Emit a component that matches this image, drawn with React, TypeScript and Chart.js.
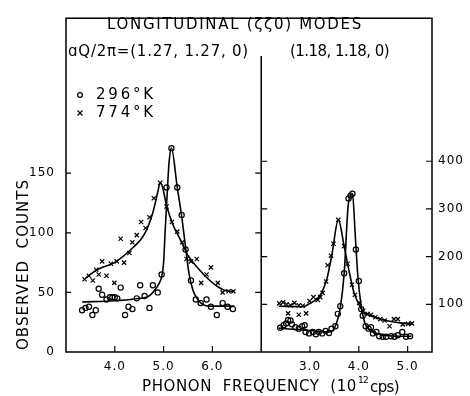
import React, { useEffect, useRef } from 'react';
import { Chart, registerables } from 'chart.js';

Chart.register(...registerables);

// ---- shared-axis mapping: left panel (3..7) and right panel (2..5.5) sit side by side
const LEFT_SHIFT = -3;
const RIGHT_SHIFT = 2;
const DIVIDER_AT = 4;

// ---- tick labels
const leftFreqTicks = [4.0, 5.0, 6.0];
const rightFreqTicks = [3.0, 4.0, 5.0];
const leftCountTicks = [0, 50, 100, 150];
const rightCountTicks = [100, 200, 300, 400];

// ---- left panel, aQ/2π = (1.27, 1.27, 0)
const leftFreq296 = [3.33, 3.40, 3.47, 3.54, 3.61, 3.67, 3.74, 3.83, 3.90, 3.95, 4.00, 4.05, 4.12, 4.21, 4.28, 4.36, 4.45, 4.52, 4.61, 4.71, 4.78, 4.88, 4.96, 5.06, 5.16, 5.28, 5.37, 5.45, 5.56, 5.66, 5.76, 5.88, 5.97, 6.09, 6.21, 6.31, 6.42];
const leftCount296 = [35, 37, 38, 31, 35, 53, 48, 44, 46, 46, 46, 45, 54, 31, 38, 36, 45, 56, 47, 37, 56, 50, 65, 138, 171, 138, 115, 86, 60, 44, 41, 44, 38, 31, 41, 38, 36];
const leftFreq774 = [3.38, 3.47, 3.55, 3.62, 3.67, 3.74, 3.83, 3.92, 3.99, 4.04, 4.12, 4.19, 4.30, 4.36, 4.45, 4.54, 4.63, 4.71, 4.80, 4.93, 5.06, 5.17, 5.28, 5.38, 5.47, 5.56, 5.68, 5.77, 5.88, 5.97, 6.11, 6.21, 6.33, 6.43];
const leftCount774 = [61, 64, 60, 69, 65, 76, 64, 74, 58, 76, 95, 75, 83, 92, 98, 109, 104, 113, 129, 142, 122, 109, 101, 92, 78, 76, 78, 58, 65, 71, 58, 50, 51, 51];
const leftFit296Freq = [3.33, 4.0, 4.4, 4.7, 4.82, 4.9, 4.96, 5.0, 5.03, 5.07, 5.11, 5.16, 5.28, 5.37, 5.45, 5.52, 5.6, 5.7, 5.8, 5.95, 6.45];
const leftFit296Count = [42, 43, 44.5, 47, 52, 57, 63, 75, 100, 130, 158, 171, 138, 114, 88, 66, 52, 44, 40, 38.5, 38.5];
const leftFit774Freq = [3.40, 3.64, 3.99, 4.33, 4.61, 4.78, 4.88, 4.93, 4.98, 5.06, 5.19, 5.37, 5.5, 5.71, 5.92, 6.12, 6.33, 6.45];
const leftFit774Count = [62, 69, 75, 86, 99, 117, 134, 142, 138, 123, 107, 92, 81, 70, 61, 54.5, 51, 51];

// ---- right panel, (1.18, 1.18, 0)
const rightFreq296 = [2.39, 2.46, 2.51, 2.55, 2.60, 2.63, 2.70, 2.77, 2.84, 2.89, 2.91, 2.98, 3.06, 3.12, 3.18, 3.25, 3.32, 3.39, 3.44, 3.52, 3.57, 3.62, 3.70, 3.79, 3.83, 3.87, 3.94, 4.00, 4.05, 4.08, 4.14, 4.20, 4.25, 4.29, 4.36, 4.42, 4.49, 4.56, 4.66, 4.73, 4.80, 4.89, 4.97, 5.05];
const rightCount296 = [51, 56, 60, 67, 66, 58, 52, 49, 54, 56, 42, 39, 42, 37, 42, 39, 44, 40, 49, 54, 80, 96, 165, 322, 328, 332, 215, 149, 90, 76, 54, 49, 52, 39, 42, 33, 32, 32, 33, 32, 35, 42, 32, 33];
const rightFreq774 = [2.37, 2.45, 2.52, 2.60, 2.68, 2.77, 2.85, 2.55, 2.77, 2.92, 2.99, 3.07, 3.16, 3.21, 3.26, 3.33, 3.36, 3.43, 3.48, 3.58, 3.70, 3.77, 3.86, 3.92, 4.01, 4.09, 4.18, 4.25, 4.34, 4.44, 4.53, 4.63, 4.72, 4.80, 4.90, 5.01, 5.09];
const rightCount774 = [102, 104, 100, 98, 103, 98, 97, 81, 78, 81, 107, 115, 109, 115, 124, 148, 182, 202, 227, 277, 222, 185, 141, 120, 103, 86, 80, 78, 73, 69, 66, 54, 69, 69, 58, 59, 60];
const rightFit296Freq = [2.36, 3.0, 3.4, 3.5, 3.57, 3.62, 3.70, 3.78, 3.83, 3.87, 3.93, 3.98, 4.05, 4.12, 4.2, 4.35, 4.6, 5.08];
const rightFit296Count = [50, 45, 42, 50, 70, 92, 165, 305, 328, 332, 240, 160, 95, 62, 48, 40, 34, 33];
const rightFit774Freq = [2.36, 2.85, 3.0, 3.2, 3.35, 3.45, 3.58, 3.7, 3.8, 3.9, 4.0, 4.1, 4.3, 4.6, 5.1];
const rightFit774Count = [96, 95, 102, 118, 155, 205, 277, 222, 170, 125, 100, 84, 74, 65, 58];

const INK = '#000';
const FONT = 'DejaVu Sans';

const pts = (xs: number[], ys: number[], shift: number) => xs.map((f, i) => ({ x: f + shift, y: ys[i] }));

function markerSet(data: any[], yAxisID: string, style: string, r: number) {
  return {
    data, yAxisID, xAxisID: 'x', showLine: false, order: 0,
    pointStyle: style, pointRadius: r, pointHoverRadius: r,
    borderColor: INK, backgroundColor: 'rgba(0,0,0,0)', pointBorderWidth: 1.2,
  };
}
function lineSet(data: any[], yAxisID: string) {
  return {
    data, yAxisID, xAxisID: 'x', showLine: true, order: 1,
    pointRadius: 0, borderColor: INK, borderWidth: 1.6,
    cubicInterpolationMode: 'monotone', fill: false,
  };
}

function fitText(ctx: CanvasRenderingContext2D, text: string, x: number, y: number, width: number, font: string) {
  ctx.font = font;
  (ctx as any).letterSpacing = '0px';
  const w = ctx.measureText(text).width;
  const n = Array.from(text).length;
  const ls = n > 1 ? (width - w) / n : 0;
  (ctx as any).letterSpacing = ls + 'px';
  ctx.textAlign = 'left';
  ctx.textBaseline = 'middle';
  ctx.fillText(text, x, y);
  (ctx as any).letterSpacing = '0px';
}

const framePlugin = {
  id: 'frame',
  beforeDraw(chart: any) {
    (chart.ctx as any).letterSpacing = '1px';
  },
  afterDraw(chart: any) {
    const ctx: CanvasRenderingContext2D = chart.ctx;
    const { left, right, top, bottom } = chart.chartArea;
    const sx = chart.scales.x, yl = chart.scales.yL, yr = chart.scales.yR;
    ctx.save();
    (ctx as any).letterSpacing = '0px';
    ctx.strokeStyle = INK;
    ctx.fillStyle = INK;
    ctx.lineWidth = 1.5;
    ctx.strokeRect(left, top, right - left, bottom - top);
    const xd = sx.getPixelForValue(DIVIDER_AT);
    ctx.beginPath();
    ctx.moveTo(xd, 56); ctx.lineTo(xd, bottom);
    ctx.stroke();
    ctx.lineWidth = 1.2;
    ctx.beginPath();
    leftFreqTicks.forEach(f => { const p = sx.getPixelForValue(f + LEFT_SHIFT); ctx.moveTo(p, bottom); ctx.lineTo(p, bottom - 6); });
    rightFreqTicks.forEach(f => { const p = sx.getPixelForValue(f + RIGHT_SHIFT); ctx.moveTo(p, bottom); ctx.lineTo(p, bottom - 6); });
    leftCountTicks.filter(v => v > 0).forEach(v => {
      const p = yl.getPixelForValue(v);
      ctx.moveTo(left, p); ctx.lineTo(left + 5, p);
      ctx.moveTo(xd, p); ctx.lineTo(xd - 6, p);
    });
    rightCountTicks.forEach(v => {
      const p = yr.getPixelForValue(v);
      ctx.moveTo(right, p); ctx.lineTo(right - 6, p);
      ctx.moveTo(xd, p); ctx.lineTo(xd + 6, p);
    });
    ctx.stroke();

    const TF = `15px "${FONT}"`;
    // annotations
    fitText(ctx, 'LONGITUDINAL (ζζ0) MODES', 107, 25, 256, TF);
    fitText(ctx, 'ɑQ/2π=(1.27, 1.27, 0)', 68, 52, 181, TF);
    fitText(ctx, '(1.18, 1.18, 0)', 290, 52, 99, TF);
    // legend symbols
    ctx.lineWidth = 1.2;
    ctx.beginPath(); ctx.arc(80, 95, 2.4, 0, Math.PI * 2); ctx.stroke();
    ctx.beginPath();
    ctx.moveTo(77.5, 110.5); ctx.lineTo(82.5, 115.5);
    ctx.moveTo(82.5, 110.5); ctx.lineTo(77.5, 115.5);
    ctx.stroke();
    fitText(ctx, '296°K', 96, 95, 60, TF);
    fitText(ctx, '774°K', 96, 113, 60, TF);

    // axis titles
    fitText(ctx, 'PHONON  FREQUENCY  (10', 142, 387, 215, TF);
    fitText(ctx, '12', 358, 381, 10, `9px "${FONT}"`);
    fitText(ctx, 'cps)', 370, 388, 29, TF);
    ctx.translate(24, 265);
    ctx.rotate(-Math.PI / 2);
    fitText(ctx, 'OBSERVED  COUNTS', -85, 0, 171, TF);
    ctx.restore();
  },
};

export default function App() {
  const ref = useRef<HTMLCanvasElement>(null);
  useEffect(() => {
    const tickFont = { family: FONT, size: 12 };
    const chart = new Chart(ref.current as HTMLCanvasElement, {
      type: 'scatter',
      data: {
        datasets: [
          markerSet(pts(leftFreq296, leftCount296, LEFT_SHIFT), 'yL', 'circle', 2.6),
          markerSet(pts(leftFreq774, leftCount774, LEFT_SHIFT), 'yL', 'crossRot', 3),
          lineSet(pts(leftFit296Freq, leftFit296Count, LEFT_SHIFT), 'yL'),
          lineSet(pts(leftFit774Freq, leftFit774Count, LEFT_SHIFT), 'yL'),
          markerSet(pts(rightFreq296, rightCount296, RIGHT_SHIFT), 'yR', 'circle', 2.6),
          markerSet(pts(rightFreq774, rightCount774, RIGHT_SHIFT), 'yR', 'crossRot', 3),
          lineSet(pts(rightFit296Freq, rightFit296Count, RIGHT_SHIFT), 'yR'),
          lineSet(pts(rightFit774Freq, rightFit774Count, RIGHT_SHIFT), 'yR'),
        ] as any,
      },
      options: {
        animation: false,
        responsive: false,
        devicePixelRatio: 1,
        layout: { padding: { top: 7, left: 0, right: 0, bottom: 0 } },
        plugins: { legend: { display: false }, tooltip: { enabled: false }, title: { display: false } },
        scales: {
          x: {
            type: 'linear', min: 0, max: 7.5,
            grid: { display: false, drawTicks: false }, border: { display: false },
            ticks: {
              color: INK, font: tickFont, padding: 8, maxRotation: 0,
              callback: (v: any) => (v < DIVIDER_AT ? v - LEFT_SHIFT : v - RIGHT_SHIFT).toFixed(1),
            },
            afterBuildTicks: (s: any) => {
              s.ticks = [...leftFreqTicks.map(f => f + LEFT_SHIFT), ...rightFreqTicks.map(f => f + RIGHT_SHIFT)].map(value => ({ value }));
            },
            afterFit: (s: any) => { s.height = 44; },
          },
          yL: {
            type: 'linear', position: 'left', min: 0, max: 280,
            grid: { display: false, drawTicks: false }, border: { display: false },
            ticks: { color: INK, font: tickFont, padding: 11 },
            afterBuildTicks: (s: any) => { s.ticks = leftCountTicks.map(value => ({ value })); },
            afterFit: (s: any) => { s.width = 66; },
          },
          yR: {
            type: 'linear', position: 'right', min: 0, max: 700,
            grid: { display: false, drawTicks: false }, border: { display: false },
            ticks: { color: INK, font: tickFont, padding: 6 },
            afterBuildTicks: (s: any) => { s.ticks = rightCountTicks.map(value => ({ value })); },
            afterFit: (s: any) => { s.width = 38; },
          },
        },
      } as any,
      plugins: [framePlugin],
    });
    return () => chart.destroy();
  }, []);
  return (
    <div style={{ position: 'fixed', left: 0, top: 0, width: 470, height: 396, background: '#fff' }}>
      <canvas ref={ref} width={470} height={396} style={{ display: 'block' }} />
    </div>
  );
}
